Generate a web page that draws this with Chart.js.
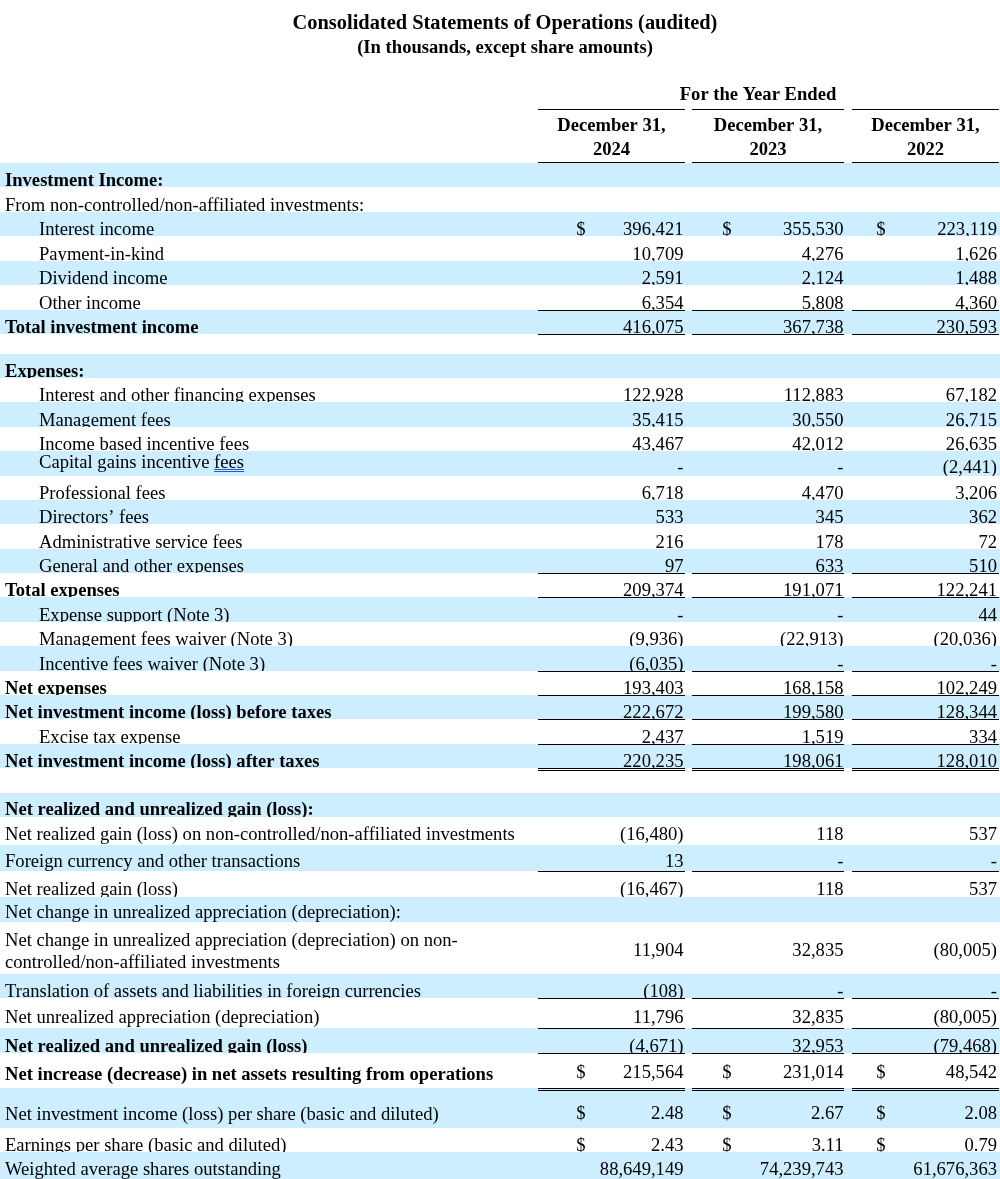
<!DOCTYPE html>
<html>
<head>
<meta charset="utf-8">
<script src="https://cdn.jsdelivr.net/npm/chart.js@4.4.1/dist/chart.umd.min.js"></script>
<style>
  html, body { margin: 0; padding: 0; background: #fff; }
  canvas { display: block; }
</style>
</head>
<body>
<canvas id="statement" width="1000" height="1179"></canvas>
<script>
const titleText = 'Consolidated Statements of Operations (audited)';
const subtitleText = '(In thousands, except share amounts)';
const periodHeading = 'For the Year Ended';
const periodEnds = ['December 31,', 'December 31,', 'December 31,'];
const years = ['2024', '2023', '2022'];

const rowLabels = [
  'Investment Income:',
  'From non-controlled/non-affiliated investments:',
  'Interest income',
  'Payment-in-kind',
  'Dividend income',
  'Other income',
  'Total investment income',
  '',
  'Expenses:',
  'Interest and other financing expenses',
  'Management fees',
  'Income based incentive fees',
  'Capital gains incentive fees',
  'Professional fees',
  'Directors\u2019 fees',
  'Administrative service fees',
  'General and other expenses',
  'Total expenses',
  'Expense support (Note 3)',
  'Management fees waiver (Note 3)',
  'Incentive fees waiver (Note 3)',
  'Net expenses',
  'Net investment income (loss) before taxes',
  'Excise tax expense',
  'Net investment income (loss) after taxes',
  '',
  'Net realized and unrealized gain (loss):',
  'Net realized gain (loss) on non-controlled/non-affiliated investments',
  'Foreign currency and other transactions',
  'Net realized gain (loss)',
  'Net change in unrealized appreciation (depreciation):',
  'Net change in unrealized appreciation (depreciation) on non-\ncontrolled/non-affiliated investments',
  'Translation of assets and liabilities in foreign currencies',
  'Net unrealized appreciation (depreciation)',
  'Net realized and unrealized gain (loss)',
  'Net increase (decrease) in net assets resulting from operations',
  'Net investment income (loss) per share (basic and diluted)',
  'Earnings per share (basic and diluted)',
  'Weighted average shares outstanding'
];

// null = empty cell, 0 = shown as "-", negatives shown in parentheses
const fy2024 = [null, null, 396421, 10709, 2591, 6354, 416075, null, null,
  122928, 35415, 43467, 0, 6718, 533, 216, 97, 209374, 0, -9936, -6035,
  193403, 222672, 2437, 220235, null, null, -16480, 13, -16467, null,
  11904, -108, 11796, -4671, 215564, 2.48, 2.43, 88649149];
const fy2023 = [null, null, 355530, 4276, 2124, 5808, 367738, null, null,
  112883, 30550, 42012, 0, 4470, 345, 178, 633, 191071, 0, -22913, 0,
  168158, 199580, 1519, 198061, null, null, 118, 0, 118, null,
  32835, 0, 32835, 32953, 231014, 2.67, 3.11, 74239743];
const fy2022 = [null, null, 223119, 1626, 1488, 4360, 230593, null, null,
  67182, 26715, 26635, -2441, 3206, 362, 72, 510, 122241, 44, -20036, 0,
  102249, 128344, 334, 128010, null, null, 537, 0, 537, null,
  -80005, 0, -80005, -79468, 48542, 2.08, 0.79, 61676363];

// ---- layout / style ----
const serif = "'Liberation Serif', 'Times New Roman', serif";
const ink = '#000000';
const band = '#CCEEFF';
const linkBlue = '#2f55c8';
const fontPx = 18.6;

const headTop = 70;
const headRows = [39, 54];
const rowHeights = [24, 25, 24, 25, 24, 25, 24, 20, 24, 24, 25, 24, 25, 24, 24, 25, 24, 24, 25, 24,
  25, 24, 24, 25, 24, 25, 24, 28, 26, 26, 25, 52, 24, 30, 25, 35, 40, 24, 27];
const labelDrop = [1, 1, 1, 1, 1, 1, 1, 1, 1, 1, 1, 1, 8, 1, 1, 1, 1, 1, 1, 1,
  1, 1, 1, 1, 1, 1, 2, 5, 4, 2, 4, 6, 1, 5, 1, 8, 8, 1, 4];
const valueDrop = [1, 1, 1, 1, 1, 1, 1, 1, 1, 1, 1, 1, 3, 1, 1, 1, 1, 1, 1, 1,
  1, 1, 1, 1, 1, 1, 2, 5, 4, 2, 4, 18, 1, 5, 1, 10, 9, 1, 4];
const rowKind = ['head', 'plain', 'item', 'item', 'item', 'item', 'total', 'plain', 'head',
  'item', 'item', 'item', 'item', 'item', 'item', 'item', 'item', 'total', 'item', 'item', 'item',
  'total', 'total', 'item', 'total', 'plain', 'head', 'plain', 'plain', 'plain', 'plain',
  'plain', 'plain', 'plain', 'total', 'total', 'plain', 'plain', 'plain'];
const rules = { 5: 1, 6: 1, 16: 1, 17: 1, 20: 1, 21: 1, 22: 1, 23: 1, 24: 2,
  28: 1, 32: 1, 33: 1, 34: 1, 35: 2 };
const dollarRows = [2, 35, 36, 37];
const decimalRows = [36, 37];
const linkRow = 12, linkWord = 'fees';

const colLeft = [538, 692, 852];
const colRight = [685, 844, 999];
const numRight = [683.5, 843.5, 997];
const dollarX = [581, 727, 881];
const headingX = 758;

function fmt(v, dec) {
  if (v === null || v === undefined) return '';
  if (v === 0) return '-';
  const s = Math.abs(v).toLocaleString('en-US', { minimumFractionDigits: dec, maximumFractionDigits: dec });
  return v < 0 ? '(' + s + ')' : s;
}

const statementTable = {
  id: 'statementTable',
  afterDraw(chart) {
    const ctx = chart.ctx;
    const xs = chart.scales.x, ys = chart.scales.y;
    const X = v => xs.getPixelForValue(v);
    const Y = v => Math.round(ys.getPixelForValue(v));
    const left = X(0), right = X(1000);
    const columns = [fy2024, fy2023, fy2022];
    const regular = fontPx + 'px ' + serif;
    const bold = 'bold ' + regular;

    ctx.save();
    ctx.textBaseline = 'alphabetic';
    ctx.fillStyle = ink;

    // column heading
    const h1 = headTop + headRows[0];
    const h2 = h1 + headRows[1];
    ctx.font = bold;
    ctx.textAlign = 'center';
    ctx.fillText(periodHeading, X(headingX), Y(h1 - 9));
    for (let c = 0; c < 3; c++) {
      const cx = X((colLeft[c] + colRight[c]) / 2);
      ctx.fillRect(X(colLeft[c]), Y(h1), X(colRight[c]) - X(colLeft[c]), 1);
      ctx.fillText(periodEnds[c], cx, Y(h2 - 32));
      ctx.fillText(years[c], cx, Y(h2 - 8));
      ctx.fillRect(X(colLeft[c]), Y(h2) - 1, X(colRight[c]) - X(colLeft[c]), 1);
    }

    // body rows
    let t = h2;
    const bottoms = [];
    rowLabels.forEach((label, i) => {
      const b = t + rowHeights[i];
      bottoms.push(b);
      const yt = Y(t), yb = Y(b);
      if (i % 2 === 0) {
        ctx.fillStyle = band;
        ctx.fillRect(left, yt, right - left, yb - yt);
      }
      ctx.save();
      ctx.beginPath();
      ctx.rect(left, yt, right - left, yb - yt);
      ctx.clip();
      ctx.fillStyle = ink;
      const kind = rowKind[i];
      ctx.font = (kind === 'head' || kind === 'total') ? bold : regular;
      ctx.textAlign = 'left';
      const lx = X(kind === 'item' ? 39 : 5);
      const lines = label.split('\n');
      lines.forEach((ln, k) => {
        ctx.fillText(ln, lx, Y(b - labelDrop[i] - (lines.length - 1 - k) * 22));
      });
      if (i === linkRow) {
        const start = lx + ctx.measureText(label.slice(0, label.lastIndexOf(linkWord))).width;
        const w = ctx.measureText(linkWord).width;
        const base = Y(b - labelDrop[i]);
        ctx.fillStyle = linkBlue;
        ctx.fillRect(start, base + 1, w, 1);
        ctx.fillRect(start, base + 3, w, 1);
        ctx.fillStyle = ink;
      }
      ctx.font = regular;
      columns.forEach((col, c) => {
        const txt = fmt(col[i], decimalRows.includes(i) ? 2 : 0);
        if (!txt) return;
        const vy = Y(b - valueDrop[i]);
        ctx.textAlign = 'right';
        ctx.fillText(txt, X(numRight[c]), vy);
        if (dollarRows.includes(i)) {
          ctx.textAlign = 'center';
          ctx.fillText('$', X(dollarX[c]), vy);
        }
      });
      ctx.restore();
      t = b;
    });

    // underlines below subtotal cells
    ctx.fillStyle = ink;
    Object.keys(rules).forEach(k => {
      const i = +k;
      const yb = Y(bottoms[i]);
      for (let c = 0; c < 3; c++) {
        const x0 = X(colLeft[c]), w = X(colRight[c]) - x0;
        ctx.fillRect(x0, yb, w, 1);
        if (rules[k] === 2) ctx.fillRect(x0, yb + 2, w, 1);
      }
    });
    ctx.restore();
  }
};

Chart.defaults.font.family = serif;
Chart.defaults.color = ink;

const ctx = document.getElementById('statement').getContext('2d');
const statementChart = new Chart(ctx, {
  type: 'scatter',
  data: { datasets: [] },
  plugins: [statementTable],
  options: {
    responsive: false,
    animation: false,
    devicePixelRatio: 1,
    events: [],
    layout: { padding: { left: 10, right: 0, top: 0, bottom: 0 } },
    plugins: {
      legend: { display: false },
      tooltip: { enabled: false },
      title: {
        display: true,
        text: titleText,
        color: ink,
        font: { family: serif, size: 20.4, weight: 'bold', lineHeight: 1.2 },
        padding: { top: 11.5, bottom: 0 }
      },
      subtitle: {
        display: true,
        text: subtitleText,
        color: ink,
        font: { family: serif, size: fontPx, weight: 'bold', lineHeight: 1.2 },
        padding: { top: 1, bottom: 10.5 }
      }
    },
    scales: {
      x: { type: 'linear', display: false, min: 10, max: 1000 },
      y: { type: 'linear', display: false, reverse: true, min: headTop, max: 1179 }
    }
  }
});
</script>
</body>
</html>
